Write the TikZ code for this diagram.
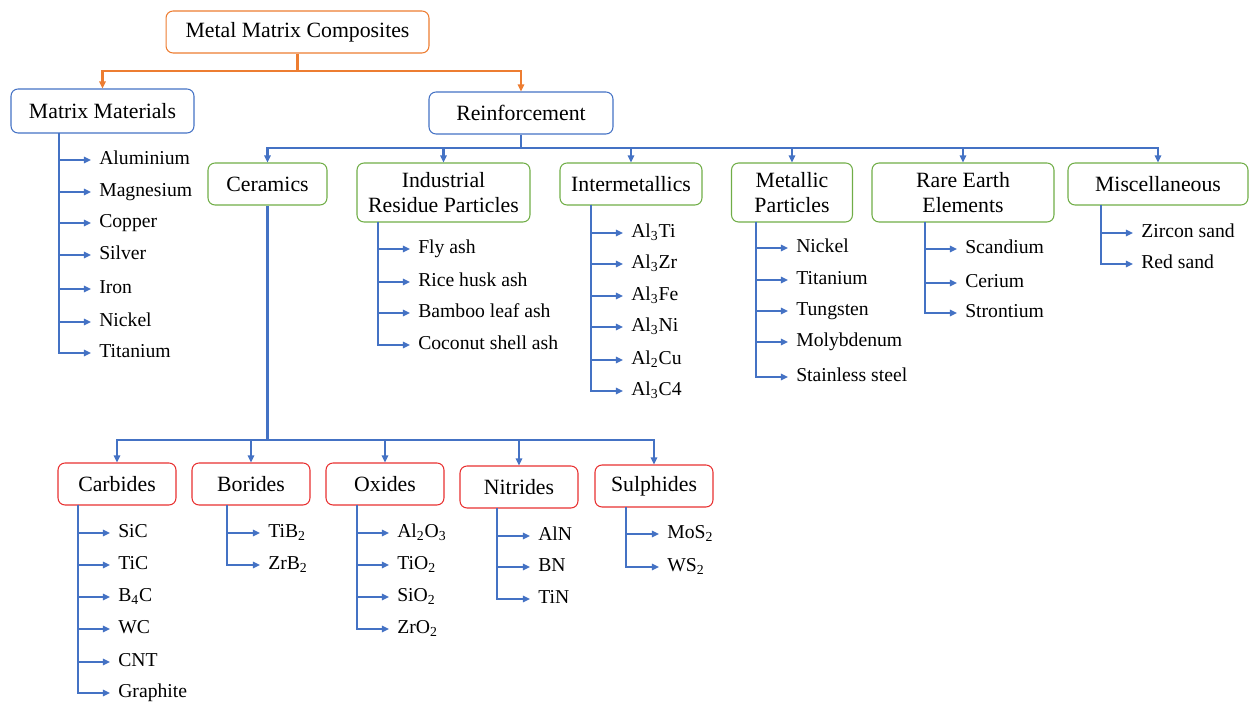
\documentclass[tikz,border=0pt]{standalone}
\usepackage{fontspec}
\setmainfont{Liberation Serif}
\usetikzlibrary{arrows.meta}
\definecolor{mmcorange}{RGB}{237,125,49}
\definecolor{mmcblue}{RGB}{68,114,196}
\definecolor{mmcgreen}{RGB}{112,173,71}
\definecolor{mmcred}{RGB}{232,48,48}
\tikzset{
  box/.style={draw,rounded corners=4pt,line width=0.6pt,align=center,inner sep=2pt,font=\fontsize{12.4}{14.2}\selectfont},
  leaf/.style={anchor=west,inner xsep=4.5pt,inner ysep=0pt,text height=8pt,text depth=2.5pt,font=\fontsize{11.2}{13}\selectfont},
  oline/.style={color=mmcorange,line width=1.25pt},
  bline/.style={color=mmcblue,line width=1.25pt},
  oarr/.style={oline,-{Triangle[length=4pt,width=3.6pt]}},
  barr/.style={bline,-{Triangle[length=4pt,width=3.6pt]}}
}
\begin{document}
\begin{tikzpicture}[x=0.02cm,y=-0.02cm]
\useasboundingbox (0,0) rectangle (1249,702);
\node[box,draw=mmcorange,minimum width=5.26cm,minimum height=0.84cm] (mmc) at (297.5,32) {Metal Matrix Composites};
\node[box,draw=mmcblue,minimum width=3.66cm,minimum height=0.88cm] (mm) at (102.5,111) {Matrix Materials};
\node[box,draw=mmcblue,minimum width=3.68cm,minimum height=0.84cm] (reinf) at (521,113) {Reinforcement};
\coordinate (split0) at (297.5,71);
\draw[oline] (mmc.south) -- (split0);
\draw[oarr] (split0) -| (mm.north);
\draw[oarr] (split0) -| (reinf.north);

\node[box,draw=mmcgreen,minimum width=2.38cm,minimum height=0.84cm] (cer) at (267.5,184) {Ceramics};
\node[box,draw=mmcgreen,minimum width=3.46cm,minimum height=1.18cm] (ind) at (443.5,192.5) {Industrial\\Residue Particles};
\node[box,draw=mmcgreen,minimum width=2.84cm,minimum height=0.84cm] (inter) at (631,184) {Intermetallics};
\node[box,draw=mmcgreen,minimum width=2.42cm,minimum height=1.18cm] (met) at (792,192.5) {Metallic\\Particles};
\node[box,draw=mmcgreen,minimum width=3.64cm,minimum height=1.18cm] (rare) at (963,192.5) {Rare Earth\\Elements};
\node[box,draw=mmcgreen,minimum width=3.6cm,minimum height=0.84cm] (misc) at (1158,184) {Miscellaneous};
\coordinate (split1) at (521,148);
\draw[bline] (reinf.south) -- (split1);
\draw[barr] (split1) -| (cer.north);
\draw[barr] (split1) -| (ind.north);
\draw[barr] (split1) -| (inter.north);
\draw[barr] (split1) -| (met.north);
\draw[barr] (split1) -| (rare.north);
\draw[barr] (split1) -| (misc.north);

\node[box,draw=mmcred,minimum width=2.36cm,minimum height=0.84cm] (carb) at (117,484) {Carbides};
\node[box,draw=mmcred,minimum width=2.36cm,minimum height=0.84cm] (bor) at (251,484) {Borides};
\node[box,draw=mmcred,minimum width=2.36cm,minimum height=0.84cm] (oxi) at (385,484) {Oxides};
\node[box,draw=mmcred,minimum width=2.36cm,minimum height=0.84cm] (nit) at (519,487) {Nitrides};
\node[box,draw=mmcred,minimum width=2.36cm,minimum height=0.84cm] (sul) at (654,486) {Sulphides};
\coordinate (split2) at (267.5,440);
\draw[bline] (cer.south) -- (split2);
\draw[barr] (split2) -| (carb.north);
\draw[barr] (split2) -| (bor.north);
\draw[barr] (split2) -| (oxi.north);
\draw[barr] (split2) -| (nit.north);
\draw[barr] (split2) -| (sul.north);

\coordinate (mmv) at (59,133);
\node[leaf] (al) at (91,160) {Aluminium};
\node[leaf] (mg) at (91,192) {Magnesium};
\node[leaf] (cu) at (91,223) {Copper};
\node[leaf] (ag) at (91,255) {Silver};
\node[leaf] (fe) at (91,289) {Iron};
\node[leaf] (ni) at (91,322) {Nickel};
\node[leaf] (ti) at (91,353) {Titanium};
\draw[barr] (mmv) |- (al.west);
\draw[barr] (mmv) |- (mg.west);
\draw[barr] (mmv) |- (cu.west);
\draw[barr] (mmv) |- (ag.west);
\draw[barr] (mmv) |- (fe.west);
\draw[barr] (mmv) |- (ni.west);
\draw[barr] (mmv) |- (ti.west);

\coordinate (indv) at (378,222);
\node[leaf] (fly) at (410,249) {Fly ash};
\node[leaf] (rice) at (410,282) {Rice husk ash};
\node[leaf] (bamboo) at (410,313) {Bamboo leaf ash};
\node[leaf] (coco) at (410,345) {Coconut shell ash};
\draw[barr] (indv) |- (fly.west);
\draw[barr] (indv) |- (rice.west);
\draw[barr] (indv) |- (bamboo.west);
\draw[barr] (indv) |- (coco.west);

\coordinate (interv) at (591,205);
\node[leaf] (alti) at (623,233) {Al\textsubscript{3}Ti};
\node[leaf] (alzr) at (623,264) {Al\textsubscript{3}Zr};
\node[leaf] (alfe) at (623,296) {Al\textsubscript{3}Fe};
\node[leaf] (alni) at (623,327) {Al\textsubscript{3}Ni};
\node[leaf] (alcu) at (623,360) {Al\textsubscript{2}Cu};
\node[leaf] (alc) at (623,391) {Al\textsubscript{3}C4};
\draw[barr] (interv) |- (alti.west);
\draw[barr] (interv) |- (alzr.west);
\draw[barr] (interv) |- (alfe.west);
\draw[barr] (interv) |- (alni.west);
\draw[barr] (interv) |- (alcu.west);
\draw[barr] (interv) |- (alc.west);

\coordinate (metv) at (756,222);
\node[leaf] (mni) at (788,248) {Nickel};
\node[leaf] (mti) at (788,280) {Titanium};
\node[leaf] (mw) at (788,311) {Tungsten};
\node[leaf] (mmo) at (788,342) {Molybdenum};
\node[leaf] (mss) at (788,377) {Stainless steel};
\draw[barr] (metv) |- (mni.west);
\draw[barr] (metv) |- (mti.west);
\draw[barr] (metv) |- (mw.west);
\draw[barr] (metv) |- (mmo.west);
\draw[barr] (metv) |- (mss.west);

\coordinate (rarev) at (925,222);
\node[leaf] (sc) at (957,249) {Scandium};
\node[leaf] (ce) at (957,283) {Cerium};
\node[leaf] (sr) at (957,313) {Strontium};
\draw[barr] (rarev) |- (sc.west);
\draw[barr] (rarev) |- (ce.west);
\draw[barr] (rarev) |- (sr.west);

\coordinate (miscv) at (1101,205);
\node[leaf] (zs) at (1133,233) {Zircon sand};
\node[leaf] (rs) at (1133,264) {Red sand};
\draw[barr] (miscv) |- (zs.west);
\draw[barr] (miscv) |- (rs.west);

\coordinate (carbv) at (78,505);
\node[leaf] (sic) at (110,533) {SiC};
\node[leaf] (tic) at (110,565) {TiC};
\node[leaf] (bc) at (110,597) {B\textsubscript{4}C};
\node[leaf] (wc) at (110,629) {WC};
\node[leaf] (cnt) at (110,662) {CNT};
\node[leaf] (gr) at (110,693) {Graphite};
\draw[barr] (carbv) |- (sic.west);
\draw[barr] (carbv) |- (tic.west);
\draw[barr] (carbv) |- (bc.west);
\draw[barr] (carbv) |- (wc.west);
\draw[barr] (carbv) |- (cnt.west);
\draw[barr] (carbv) |- (gr.west);

\coordinate (borv) at (227,505);
\node[leaf] (tib) at (260,533) {TiB\textsubscript{2}};
\node[leaf] (zrb) at (260,565) {ZrB\textsubscript{2}};
\draw[barr] (borv) |- (tib.west);
\draw[barr] (borv) |- (zrb.west);

\coordinate (oxiv) at (357,505);
\node[leaf] (alo) at (389,533) {Al\textsubscript{2}O\textsubscript{3}};
\node[leaf] (tio) at (389,565) {TiO\textsubscript{2}};
\node[leaf] (sio) at (389,597) {SiO\textsubscript{2}};
\node[leaf] (zro) at (389,629) {ZrO\textsubscript{2}};
\draw[barr] (oxiv) |- (alo.west);
\draw[barr] (oxiv) |- (tio.west);
\draw[barr] (oxiv) |- (sio.west);
\draw[barr] (oxiv) |- (zro.west);

\coordinate (nitv) at (497,508);
\node[leaf] (aln) at (530,536) {AlN};
\node[leaf] (bn) at (530,567) {BN};
\node[leaf] (tin) at (530,599) {TiN};
\draw[barr] (nitv) |- (aln.west);
\draw[barr] (nitv) |- (bn.west);
\draw[barr] (nitv) |- (tin.west);

\coordinate (sulv) at (626,507);
\node[leaf] (mos) at (659,534) {MoS\textsubscript{2}};
\node[leaf] (ws) at (659,567) {WS\textsubscript{2}};
\draw[barr] (sulv) |- (mos.west);
\draw[barr] (sulv) |- (ws.west);
\end{tikzpicture}
\end{document}
